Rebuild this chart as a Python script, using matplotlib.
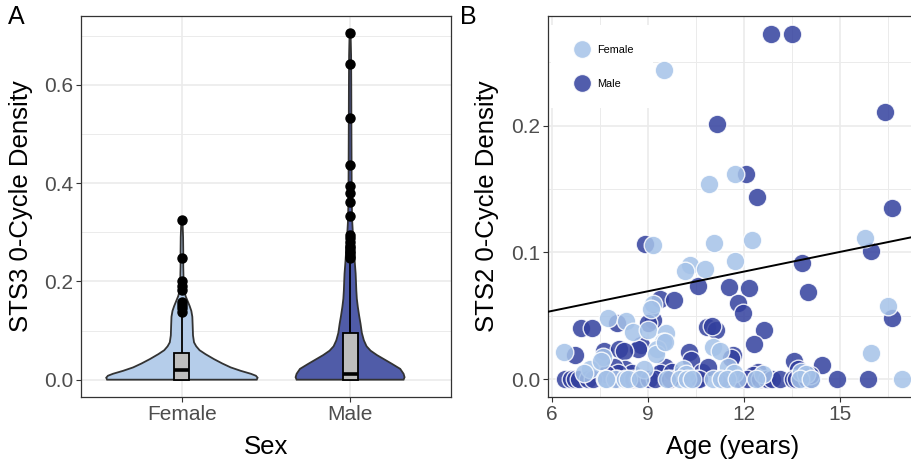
import numpy as np
import matplotlib
matplotlib.use("Agg")
import matplotlib.pyplot as plt
from matplotlib.lines import Line2D

plt.rcParams["font.family"] = ["Liberation Sans", "DejaVu Sans"]

# ---- panel A: violin profiles (value, half-width) ----
sexes = ["Female", "Male"]
fem_prof_y = [0.000, 0.004, 0.008, 0.012, 0.018, 0.025, 0.033, 0.042, 0.052, 0.060,
              0.068, 0.076, 0.090, 0.110, 0.128, 0.140, 0.150, 0.160, 0.170, 0.182,
              0.200, 0.230, 0.260, 0.290, 0.310, 0.325]
fem_prof_w = [0.445, 0.450, 0.440, 0.410, 0.350, 0.290, 0.240, 0.190, 0.140, 0.105,
              0.085, 0.072, 0.066, 0.064, 0.062, 0.056, 0.046, 0.034, 0.022, 0.013,
              0.010, 0.008, 0.008, 0.007, 0.005, 0.003]
male_prof_y = [0.000, 0.005, 0.012, 0.022, 0.032, 0.042, 0.050, 0.059, 0.068, 0.080,
               0.095, 0.114, 0.130, 0.148, 0.165, 0.182, 0.200, 0.216, 0.243, 0.270,
               0.290, 0.320, 0.360, 0.420, 0.500, 0.600, 0.660, 0.705]
male_prof_w = [0.318, 0.324, 0.318, 0.298, 0.250, 0.200, 0.160, 0.122, 0.098, 0.082,
               0.070, 0.062, 0.054, 0.046, 0.040, 0.037, 0.035, 0.033, 0.027, 0.022,
               0.018, 0.013, 0.010, 0.009, 0.008, 0.007, 0.006, 0.003]

# box stats: q1, median, q3, upper whisker
fem_box = [0.0, 0.019, 0.054, 0.136]
male_box = [0.0, 0.011, 0.094, 0.235]
fem_outliers = [0.325, 0.248, 0.200, 0.190, 0.183, 0.158, 0.152, 0.145, 0.138]
male_outliers = [0.705, 0.642, 0.533, 0.437, 0.395, 0.380, 0.362, 0.333, 0.295,
                 0.288, 0.280, 0.273, 0.268, 0.262, 0.257, 0.252, 0.248]

# ---- panel B: scatter (age, STS2 density) ----
male_age = [12.85, 13.50, 11.16, 16.42, 12.07, 12.42, 16.63, 8.93, 15.98, 13.82,
            10.58, 11.53, 12.18, 14.00, 9.40, 9.83, 11.81, 11.99, 16.63, 12.65,
            12.31, 6.92, 7.26, 8.04, 9.16, 10.84, 11.13, 11.00, 8.79, 8.70,
            7.65, 6.74, 8.10, 8.25, 10.30, 10.35, 11.66, 11.60, 13.58, 14.45,
            13.70, 9.40, 9.55, 10.70, 10.90, 8.30, 8.50, 7.95, 12.45, 12.30,
            9.00, 9.38, 8.07, 7.70, 9.75, 10.05,
            6.42, 6.60, 6.73, 6.85, 7.15, 7.30, 8.05, 8.55, 8.70, 9.05,
            9.23, 9.70, 10.53, 10.60, 11.40, 11.90, 12.09, 12.50, 12.72, 12.90,
            13.14, 13.55, 13.62, 13.97, 14.10, 14.92, 15.90, 14.07]
male_val = [0.2725, 0.2725, 0.201, 0.2105, 0.162, 0.144, 0.135, 0.1065, 0.1015, 0.0914,
            0.0735, 0.0725, 0.0717, 0.0685, 0.063, 0.0625, 0.060, 0.0525, 0.048, 0.0387,
            0.028, 0.0406, 0.0406, 0.044, 0.0466, 0.041, 0.039, 0.042, 0.027, 0.024,
            0.0224, 0.019, 0.0235, 0.022, 0.0216, 0.015, 0.019, 0.017, 0.0142, 0.011,
            0.008, 0.005, 0.010, 0.006, 0.010, 0.008, 0.005, 0.010, 0.006, 0.003,
            0.0444, 0.005, 0.005, 0.004, 0.006, 0.003,
            0.0, 0.0, 0.0, 0.0, 0.0, 0.0, 0.0, 0.0, 0.0, 0.0,
            0.0, 0.0, 0.0, 0.0, 0.0, 0.0, 0.0, 0.0, 0.0, 0.0,
            0.0, 0.0, 0.0, 0.0, 0.0, 0.0, 0.0, 0.003]
fem_age = [9.50, 10.93, 11.74, 12.25, 11.08, 9.16, 11.74, 15.79, 10.33, 10.18,
           10.80, 9.16, 9.10, 16.52, 7.75, 8.32, 8.53, 9.00, 9.57, 9.47,
           9.30, 6.40, 11.03, 11.25, 15.98, 9.26, 7.59, 7.20, 7.00, 10.10,
           10.20, 11.50, 11.70, 12.60, 13.80, 13.95, 8.90, 7.55, 9.54,
           7.67, 7.98, 8.29, 8.40, 9.59, 10.00, 10.22, 10.40, 11.05, 11.30,
           11.47, 11.78, 12.40, 13.75, 14.10, 16.94, 7.71, 8.75]
fem_val = [0.2437, 0.154, 0.1615, 0.110, 0.1078, 0.106, 0.0933, 0.1117, 0.090, 0.085,
           0.0867, 0.059, 0.055, 0.058, 0.048, 0.046, 0.0374, 0.0387, 0.0366, 0.0295,
           0.024, 0.0216, 0.0256, 0.022, 0.0203, 0.020, 0.0177, 0.008, 0.005, 0.008,
           0.004, 0.010, 0.005, 0.004, 0.006, 0.004, 0.008, 0.0145, 0.029,
           0.0, 0.0, 0.0, 0.0, 0.0, 0.0, 0.0, 0.0, 0.0, 0.0,
           0.0, 0.0, 0.0, 0.0, 0.0, 0.0, 0.0, 0.0]

# fitted line (intercept, slope) as drawn in the figure
fit_coef = [0.0228, 0.00517]

FEM_COL = "#A5C2E8"
MALE_COL = "#33409E"
FEM_VIOL = "#B5CDEA"
MALE_VIOL = "#505CA8"
GRID = "#EBEBEB"
TICK_COL = "#4D4D4D"

W, H = 912, 461
fig = plt.figure(figsize=(W / 100, H / 100), dpi=100)


def style_axes(ax):
    ax.set_axisbelow(True)
    for s in ax.spines.values():
        s.set_color("#333333")
        s.set_linewidth(0.9)
    ax.tick_params(axis="both", which="major", length=3.5, width=0.8,
                   color="#333333", labelcolor=TICK_COL, labelsize=15, pad=2)
    ax.tick_params(which="minor", length=0)
    ax.grid(True, which="major", color=GRID, lw=1.2)
    ax.grid(True, which="minor", color=GRID, lw=0.7)


# ---------------- panel A ----------------
axA = fig.add_axes([81 / W, 64 / H, 370 / W, 381 / H])
style_axes(axA)
axA.set_xlim(0.4, 2.6)
axA.set_ylim(-0.03525, 0.74025)
axA.set_xticks([1, 2])
axA.set_xticklabels(sexes)
axA.set_yticks([0.0, 0.2, 0.4, 0.6])
axA.set_yticks([0.1, 0.3, 0.5, 0.7], minor=True)
axA.grid(False, axis="x", which="minor")

profiles = [(fem_prof_y, fem_prof_w, FEM_VIOL, fem_box, fem_outliers),
            (male_prof_y, male_prof_w, MALE_VIOL, male_box, male_outliers)]
for i, (py, pw, col, box, outl) in enumerate(profiles):
    pos = i + 1
    py = np.asarray(py)
    pw = np.asarray(pw)
    xs = np.concatenate([pos - pw, (pos + pw)[::-1]])
    ys = np.concatenate([py, py[::-1]])
    axA.fill(xs, ys, facecolor=col, edgecolor="#333333", lw=1.3, zorder=2)
    q1, med, q3, wh = box
    bw = 0.045
    axA.plot([pos, pos], [q3, wh], color="black", lw=1.3, zorder=3)
    axA.add_patch(plt.Rectangle((pos - bw, q1), 2 * bw, q3 - q1, facecolor="#BEBEBE",
                                edgecolor="black", lw=1.3, zorder=3))
    axA.plot([pos - bw, pos + bw], [med, med], color="black", lw=2.6, zorder=4,
             solid_capstyle="butt")
    axA.plot([pos] * len(outl), outl, "o", color="black", ms=6.5, zorder=5)

axA.set_xlabel("Sex", fontsize=18.5)
axA.set_ylabel("STS3 0-Cycle Density", fontsize=18.5)
axA.xaxis.set_label_coords(0.5, -0.1)
axA.yaxis.set_label_coords(-0.13, 0.5)

# ---------------- panel B ----------------
bw_px = 400
axB = fig.add_axes([548 / W, 64 / H, bw_px / W, 381 / H])
style_axes(axB)
axB.set_xlim(5.885, 5.885 + bw_px / 32.0)
axB.set_ylim(-0.0140, 0.2864)
axB.set_xticks([6, 9, 12, 15])
axB.set_xticks([7.5, 10.5, 13.5, 16.5], minor=True)
axB.set_yticks([0.0, 0.1, 0.2])
axB.set_yticks([0.05, 0.15, 0.25], minor=True)

axB.scatter(male_age, male_val, s=180, color=MALE_COL, alpha=0.85,
            edgecolors="white", linewidths=1.0, zorder=3)
axB.scatter(fem_age, fem_val, s=180, color=FEM_COL, alpha=0.85,
            edgecolors="white", linewidths=1.0, zorder=3)

xl = np.array(axB.get_xlim())
axB.plot(xl, fit_coef[0] + fit_coef[1] * xl, color="black", lw=1.4, zorder=4)

handles = [Line2D([], [], marker="o", ls="", ms=13, markerfacecolor=c,
                  markeredgecolor="white", alpha=0.85)
           for c in (FEM_COL, MALE_COL)]
leg = axB.legend(handles, sexes, loc="upper left",
                 bbox_to_anchor=(0.0, 1.0 - 6 / 381),
                 fontsize=7.8, frameon=True, facecolor="white", edgecolor="none",
                 fancybox=False, framealpha=1.0, labelspacing=2.2,
                 borderpad=1.8, handletextpad=0.4, borderaxespad=0.3)
leg.set_zorder(6)

axB.set_xlabel("Age (years)", fontsize=18.5)
axB.set_ylabel("STS2 0-Cycle Density", fontsize=18.5)
axB.xaxis.set_label_coords((733 - 548) / bw_px, -0.1)
axB.yaxis.set_label_coords(-0.1225, 0.5)

fig.text(8 / W, 1 - 5 / H, "A", fontsize=18, ha="left", va="top")
fig.text(460 / W, 1 - 5 / H, "B", fontsize=18, ha="left", va="top")

fig.savefig("out.png", dpi=100)
